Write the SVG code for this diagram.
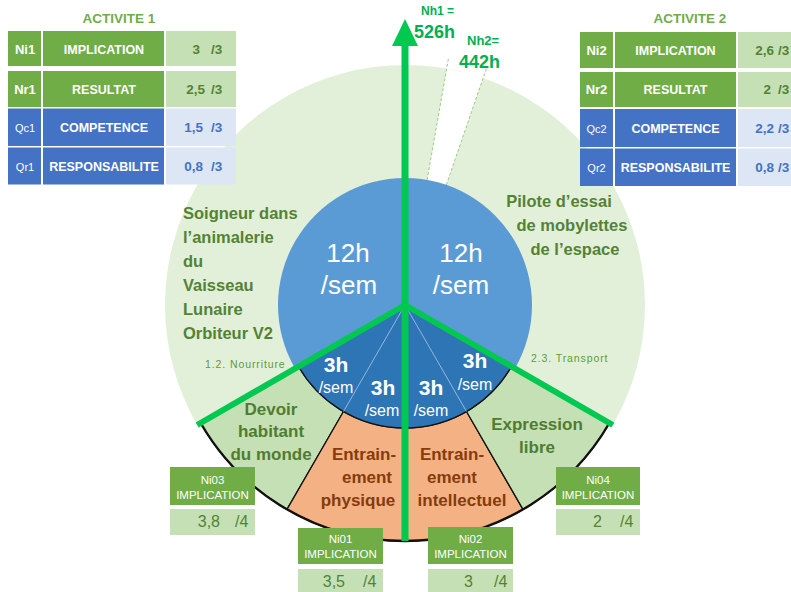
<svg xmlns="http://www.w3.org/2000/svg" width="791" height="592" viewBox="0 0 791 592">
<style>
text { font-family: "Liberation Sans", Arial, sans-serif; }
.ttl { font-weight: bold; font-size: 13.5px; fill: #70AD47; text-anchor: middle; }
.hdr { font-weight: bold; font-size: 12.5px; fill: #fff; text-anchor: middle; }
.cd { font-weight: bold; font-size: 13px; fill: #fff; text-anchor: middle; }
.cq { font-size: 11px; fill: #fff; text-anchor: middle; }
.vg { font-weight: bold; font-size: 13.5px; fill: #548235; }
.vb { font-weight: bold; font-size: 13.5px; fill: #4472C4; }
.g { fill: #70AD47; }
.lg { fill: #C5E0B4; }
.b { fill: #4472C4; }
.lb { fill: #DCE6F4; }
.big { font-size: 26px; fill: #fff; text-anchor: middle; }
.h3 { font-weight: bold; font-size: 21px; fill: #fff; text-anchor: middle; }
.sem { font-size: 16px; fill: #fff; text-anchor: middle; }
.lbl { font-weight: bold; font-size: 16.5px; fill: #548235; }
.rl { font-weight: bold; font-size: 17px; fill: #507C31; text-anchor: middle; }
.ro { font-weight: bold; font-size: 17px; fill: #843C0C; text-anchor: middle; }
.sm { font-size: 10.5px; letter-spacing: 0.9px; fill: #5F9A3C; }
.nb { font-size: 11.5px; fill: #fff; text-anchor: middle; }
.nv { font-size: 16px; fill: #548235; }
.nh { font-weight: bold; fill: #00B050; }
.ring { stroke: #111; stroke-width: 1.3; stroke-linejoin: round; }
.gl { stroke: #00C850; fill: none; }
</style>

<g id="pie">
  <path d="M405,305 L197.15,425 A240,240 0 1 1 612.85,425 Z" fill="#E2F0D9"/>
  <path d="M427.05,179.93 L446.68,68.65 A240,240 0 0 1 483.14,78.08 L446.35,184.92 A127,127 0 0 0 427.05,179.93 Z" fill="#fff"/>
  <path d="M427.05,179.93 L448.76,56.83 M446.35,184.92 L487.04,66.73" stroke="#9CCB84" stroke-width="1" stroke-dasharray="3,2" fill="none"/>
</g>

<g id="devoir">
  <path class="ring" d="M343.5,411.52 L287,509.38 A236,236 0 0 1 200.62,423 L298.48,366.5 A123,123 0 0 0 343.5,411.52 Z" fill="#C5E0B4"/>
  <text class="rl" x="271" y="415">Devoir</text>
  <text class="rl" x="271" y="437">habitant</text>
  <text class="rl" x="271" y="460">du monde</text>
</g>
<g id="entrainement-physique">
  <path class="ring" d="M405,428 L405,541 A236,236 0 0 1 287,509.38 L343.5,411.52 A123,123 0 0 0 405,428 Z" fill="#F4B183"/>
  <text class="ro" x="364" y="460">Entrain-</text>
  <text class="ro" x="367" y="483">ement</text>
  <text class="ro" x="358" y="506">physique</text>
</g>
<g id="entrainement-intellectuel">
  <path class="ring" d="M466.5,411.52 L523,509.38 A236,236 0 0 1 405,541 L405,428 A123,123 0 0 0 466.5,411.52 Z" fill="#F4B183"/>
  <text class="ro" x="452" y="460">Entrain-</text>
  <text class="ro" x="452" y="483">ement</text>
  <text class="ro" x="462" y="506">intellectuel</text>
</g>
<g id="expression-libre">
  <path class="ring" d="M511.52,366.5 L609.38,423 A236,236 0 0 1 523,509.38 L466.5,411.52 A123,123 0 0 0 511.52,366.5 Z" fill="#C5E0B4"/>
  <text class="rl" x="537" y="430">Expression</text>
  <text class="rl" x="537" y="453">libre</text>
</g>
<path d="M609.38,423 A236,236 0 0 1 200.62,423" fill="none" stroke="#111" stroke-width="2.4"/>

<g id="activite1-centre">
  <path d="M405,305 L295.01,368.5 A127,127 0 0 1 405,178 Z" fill="#5B9BD5"/>
  <text class="big" x="348" y="262">12h</text>
  <text class="big" x="349" y="294">/sem</text>
</g>
<g id="activite2-centre">
  <path d="M405,305 L405,178 A127,127 0 0 1 514.99,368.5 Z" fill="#5B9BD5"/>
  <text class="big" x="461" y="262">12h</text>
  <text class="big" x="461" y="294">/sem</text>
</g>

<g id="heures-3h">
  <path d="M405,305 L511.52,366.5 A123,123 0 0 1 298.48,366.5 Z" fill="#2E75B6"/>
  <path d="M511.52,366.5 A123,123 0 0 1 298.48,366.5" fill="none" stroke="#111" stroke-width="1.3"/>
  <path d="M405,305 L466.5,411.52 M405,305 L343.5,411.52" stroke="#A9C8E8" stroke-width="0.8"/>
  <text class="h3" x="336" y="372">3h</text>
  <text class="sem" x="336" y="393">/sem</text>
  <text class="h3" x="383" y="395">3h</text>
  <text class="sem" x="382" y="416">/sem</text>
  <text class="h3" x="431" y="395">3h</text>
  <text class="sem" x="431" y="416">/sem</text>
  <text class="h3" x="475" y="368">3h</text>
  <text class="sem" x="475" y="390">/sem</text>
</g>

<g id="connectors">
  <path class="gl" d="M405,541 L405,44" stroke-width="7"/>
  <polygon points="392,46 405,19 418,46" fill="#00C850"/>
  <path class="gl" d="M405,305 L197.15,425 M405,305 L612.85,425" stroke-width="6" stroke-linejoin="round"/>
</g>

<g id="labels">
  <text class="lbl" x="183" y="219">Soigneur dans</text>
  <text class="lbl" x="183" y="243">l’animalerie</text>
  <text class="lbl" x="183" y="267">du</text>
  <text class="lbl" x="183" y="291">Vaisseau</text>
  <text class="lbl" x="183" y="315">Lunaire</text>
  <text class="lbl" x="183" y="339">Orbiteur V2</text>
  <text class="lbl" x="559" y="207" text-anchor="middle">Pilote d’essai</text>
  <text class="lbl" x="572" y="231" text-anchor="middle">de mobylettes</text>
  <text class="lbl" x="575" y="255" text-anchor="middle">de l’espace</text>
  <text class="sm" x="205" y="368">1.2. Nourriture</text>
  <text class="sm" x="531" y="362">2.3. Transport</text>
  <text class="nh" x="421" y="15" font-size="12">Nh1 =</text>
  <text class="nh" x="414" y="38" font-size="18">526h</text>
  <text class="nh" x="467" y="45" font-size="13">Nh2=</text>
  <text class="nh" x="459" y="68" font-size="18">442h</text>
</g>

<g id="activite1">
  <text class="ttl" x="119" y="23">ACTIVITE 1</text>
  <rect class="g" x="8" y="31" width="33" height="35"/>
  <rect class="g" x="43" y="31" width="121" height="35"/>
  <rect class="lg" x="166" y="31" width="70" height="35"/>
  <rect class="g" x="8" y="71" width="33" height="36"/>
  <rect class="g" x="43" y="71" width="121" height="36"/>
  <rect class="lg" x="166" y="71" width="70" height="36"/>
  <rect class="b" x="8" y="108.5" width="33" height="37.5"/>
  <rect class="b" x="43" y="108.5" width="121" height="37.5"/>
  <rect class="lb" x="166" y="108.5" width="70" height="37.5"/>
  <rect class="b" x="8" y="147.5" width="33" height="37"/>
  <rect class="b" x="43" y="147.5" width="121" height="37"/>
  <rect class="lb" x="166" y="147.5" width="70" height="37"/>
  <text class="cd" x="25" y="54">Ni1</text>
  <text class="hdr" x="104" y="54">IMPLICATION</text>
  <text class="vg" x="200" y="54" text-anchor="end">3</text>
  <text class="vg" x="211" y="54">/3</text>
  <text class="cd" x="25" y="94">Nr1</text>
  <text class="hdr" x="104" y="94">RESULTAT</text>
  <text class="vg" x="205" y="94" text-anchor="end">2,5</text>
  <text class="vg" x="211" y="94">/3</text>
  <text class="cq" x="25" y="132">Qc1</text>
  <text class="hdr" x="104" y="132">COMPETENCE</text>
  <text class="vb" x="203" y="132" text-anchor="end">1,5</text>
  <text class="vb" x="211" y="132">/3</text>
  <text class="cq" x="25" y="171">Qr1</text>
  <text class="hdr" x="104" y="171">RESPONSABILITE</text>
  <text class="vb" x="203" y="171" text-anchor="end">0,8</text>
  <text class="vb" x="211" y="171">/3</text>
</g>

<g id="activite2">
  <text class="ttl" x="690" y="23">ACTIVITE 2</text>
  <rect class="g" x="580" y="32" width="33" height="36"/>
  <rect class="g" x="615" y="32" width="121" height="36"/>
  <rect class="lg" x="738" y="32" width="60" height="36"/>
  <rect class="g" x="580" y="72" width="33" height="35"/>
  <rect class="g" x="615" y="72" width="121" height="35"/>
  <rect class="lg" x="738" y="72" width="60" height="35"/>
  <rect class="b" x="580" y="109" width="33" height="38"/>
  <rect class="b" x="615" y="109" width="121" height="38"/>
  <rect class="lb" x="738" y="109" width="60" height="38"/>
  <rect class="b" x="580" y="148.5" width="33" height="37.5"/>
  <rect class="b" x="615" y="148.5" width="121" height="37.5"/>
  <rect class="lb" x="738" y="148.5" width="60" height="37.5"/>
  <text class="cd" x="596.5" y="55">Ni2</text>
  <text class="hdr" x="675.5" y="55">IMPLICATION</text>
  <text class="vg" x="774" y="55" text-anchor="end">2,6</text>
  <text class="vg" x="778" y="55">/3</text>
  <text class="cd" x="596.5" y="94">Nr2</text>
  <text class="hdr" x="675.5" y="94">RESULTAT</text>
  <text class="vg" x="771" y="94" text-anchor="end">2</text>
  <text class="vg" x="778" y="94">/3</text>
  <text class="cq" x="596.5" y="133">Qc2</text>
  <text class="hdr" x="675.5" y="133">COMPETENCE</text>
  <text class="vb" x="774" y="133" text-anchor="end">2,2</text>
  <text class="vb" x="778" y="133">/3</text>
  <text class="cq" x="596.5" y="172">Qr2</text>
  <text class="hdr" x="675.5" y="172">RESPONSABILITE</text>
  <text class="vb" x="774" y="172" text-anchor="end">0,8</text>
  <text class="vb" x="778" y="172">/3</text>
</g>

<g id="ni03">
  <rect class="g" x="170" y="467" width="85" height="38"/>
  <rect class="lg" x="170" y="509" width="85" height="26"/>
  <text class="nb" x="212.5" y="484">Ni03</text>
  <text class="nb" x="212.5" y="499">IMPLICATION</text>
  <text class="nv" x="220" y="527" text-anchor="end">3,8</text>
  <text class="nv" x="235" y="527">/4</text>
</g>
<g id="ni01">
  <rect class="g" x="298" y="528" width="85" height="36"/>
  <rect class="lg" x="298" y="569" width="85" height="25"/>
  <text class="nb" x="340.5" y="543">Ni01</text>
  <text class="nb" x="340.5" y="558">IMPLICATION</text>
  <text class="nv" x="345" y="587" text-anchor="end">3,5</text>
  <text class="nv" x="363" y="587">/4</text>
</g>
<g id="ni02">
  <rect class="g" x="428" y="527" width="85" height="37"/>
  <rect class="lg" x="428" y="569" width="85" height="25"/>
  <text class="nb" x="470.5" y="543">Ni02</text>
  <text class="nb" x="470.5" y="558">IMPLICATION</text>
  <text class="nv" x="473" y="587" text-anchor="end">3</text>
  <text class="nv" x="494" y="587">/4</text>
</g>
<g id="ni04">
  <rect class="g" x="556" y="467" width="84" height="38"/>
  <rect class="lg" x="556" y="509" width="84" height="26"/>
  <text class="nb" x="598" y="484">Ni04</text>
  <text class="nb" x="598" y="499">IMPLICATION</text>
  <text class="nv" x="602" y="527" text-anchor="end">2</text>
  <text class="nv" x="620" y="527">/4</text>
</g>
</svg>
